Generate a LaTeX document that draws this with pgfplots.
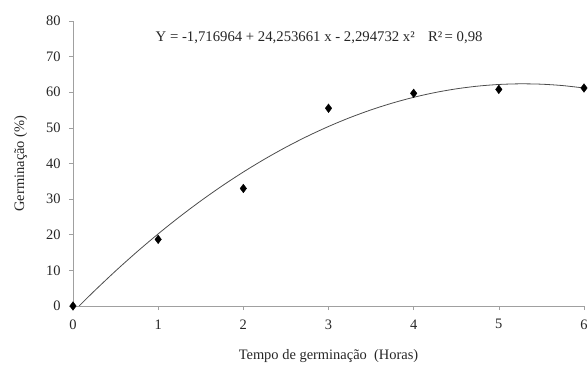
\documentclass[border=0pt]{standalone}
\usepackage{pgfplots}
\pgfplotsset{compat=1.18}
\usepackage{fontspec}
\setmainfont{Liberation Serif}
\definecolor{axgray}{RGB}{160,160,160}
\begin{document}
\begin{tikzpicture}
\useasboundingbox (-73bp,-59bp) rectangle (515bp,306bp);
\begin{axis}[
  scale only axis, width=511bp, height=285bp,
  xmin=0, xmax=6, ymin=0, ymax=80,
  axis x line=bottom, axis y line=left,
  axis line style={-, axgray, line width=0.8pt},
  xtick={0,1,...,6}, ytick={0,10,...,80},
  tick align=outside, major tick length=4bp,
  tick style={axgray, line width=0.6pt},
  tick label style={font=\fontsize{14.5}{16}\selectfont, text=black!85},
  xticklabel style={yshift=-6bp},
  yticklabel style={xshift=-5bp},
  /pgf/number format/assume math mode=true,
  xlabel={Tempo de germinação\ \ (Horas)},
  ylabel={Germinação (\%)},
  label style={font=\fontsize{14.5}{16}\selectfont, text=black!85},
  xlabel style={yshift=-13bp},
  ylabel style={yshift=12bp},
  clip=true,
  clip mode=individual,
]
\addplot[black!70, line width=0.8pt, smooth] coordinates {
(0.0713,0) (0.25,4.2030) (0.5,9.8361) (0.75,15.1824) (1,20.2420) (1.25,25.0146)
(1.5,29.5004) (1.75,33.6999) (2,37.6114) (2.25,41.2366) (2.5,44.5751)
(2.75,47.6267) (3,50.3914) (3.25,52.8694) (3.5,55.0609) (3.75,56.9645)
(4,58.5819) (4.25,59.9125) (4.5,60.9562) (4.75,61.7129) (5,62.1830)
(5.25,62.3657) (5.5,62.2621) (5.75,61.8719) (6,61.1946)
};
\addplot[only marks, mark=diamond*, mark size=4.3bp, black, clip=false] coordinates {
(0,0) (1,18.7) (2,33.0) (3,55.5) (4,59.7) (5,60.8) (6,61.2)
};
\node[anchor=west, font=\fontsize{14.8}{17}\selectfont, text=black!85] at (axis cs:0.93,75.2)
  {Y = -1,716964 + 24,253661 x - 2,294732 x²\hspace{0.9em}R²\,= 0,98};
\end{axis}
\end{tikzpicture}
\end{document}
